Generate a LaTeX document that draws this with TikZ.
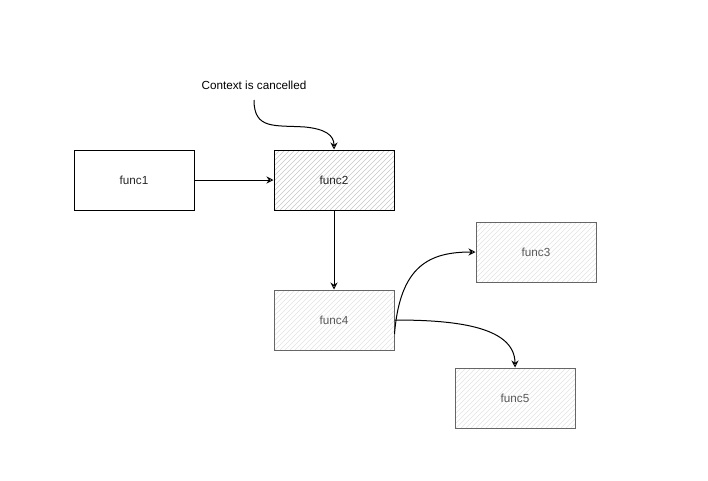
\documentclass[tikz,border=0pt]{standalone}
\usepackage{fontspec}
\setmainfont{Liberation Sans}
\usetikzlibrary{arrows.meta}
\begin{document}
\begin{tikzpicture}[x=1pt,y=-1pt,
  box/.style={draw=black,line width=1pt,minimum width=120pt,minimum height=60pt,
    inner sep=0pt,font=\fontsize{11.7}{13}\selectfont,text=black!85},
  hatch/.style={path picture={
    \foreach \i in {-64,-59,...,124}
      \draw[#1,line width=0.6pt] ([xshift=\i pt]path picture bounding box.south west) -- ++(62,-62);}},
  hatchdark/.style={hatch=black!22},
  hatchlight/.style={hatch=black!11},
  softbox/.style={box,draw=black!60,text=black!65},
  conn/.style={draw=black,line width=1pt,-{Stealth[open,length=7pt,width=7pt]}}]
\useasboundingbox[fill=white] (0,0) rectangle (708,480);

% function boxes
\node[box] (f1) at (134,180) {func1};
\node[box,hatchdark] (f2) at (334,180) {func2};
\node[softbox,hatchlight] (f3) at (536,252) {func3};
\node[softbox,hatchlight] (f4) at (334,320) {func4};
\node[softbox,hatchlight] (f5) at (515,398) {func5};

% label and its pointer
\node[font=\fontsize{11.7}{13}\selectfont] (ctx) at (254,85) {Context is cancelled};
\coordinate (ctxs) at (254,100);

% connectors
\draw[conn] (ctxs) .. controls (254,130) and (275,125) .. (305,127)
  .. controls (325,129) and (334,135) .. (f2.north);
\draw[conn] (f1.east) -- (f2.west);
\draw[conn] (f2.south) -- (f4.north);
\draw[conn] ([yshift=-14pt]f4.east) .. controls (400,265) and (430,252) .. (f3.west);
\draw[conn] (f4.east) .. controls (450,320) and (515,325) .. (f5.north);
\end{tikzpicture}
\end{document}
